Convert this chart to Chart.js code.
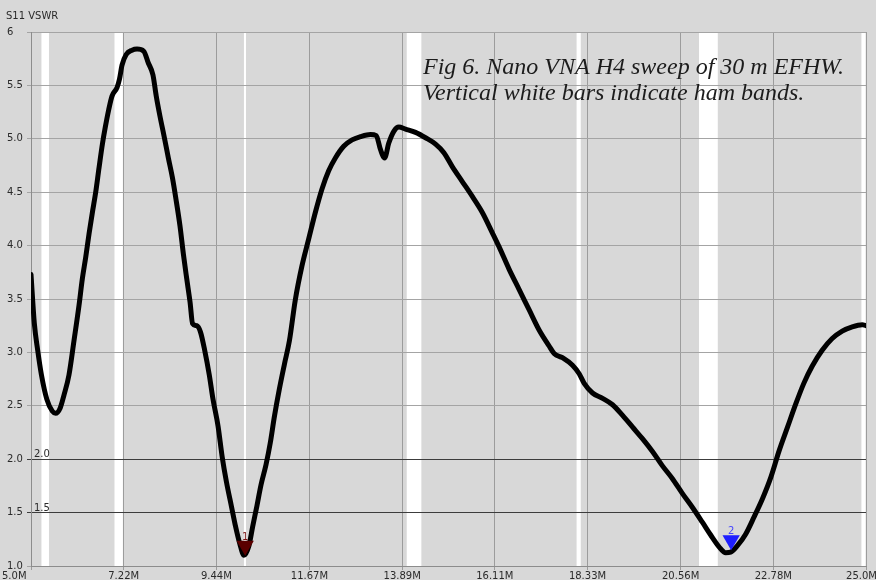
<!DOCTYPE html>
<html>
<head>
<meta charset="utf-8">
<script src="https://cdn.jsdelivr.net/npm/chart.js@4.4.1/dist/chart.umd.min.js"></script>
<style>
  html, body { margin: 0; padding: 0; background: #d8d8d8; }
  #wrap { width: 876px; height: 580px; }
</style>
</head>
<body>
<div id="wrap"><canvas id="chart" width="876" height="580"></canvas></div>
<script>
// S11 sweep: frequency in MHz, VSWR
const freqs = [
  5.00, 5.08, 5.16, 5.25, 5.38, 5.51, 5.59, 5.70, 5.79, 5.91,
  6.03, 6.15, 6.23, 6.31, 6.39, 6.47, 6.55, 6.63, 6.71, 6.78,
  6.86, 6.94, 7.06, 7.12, 7.18, 7.28, 7.42, 7.54, 7.70, 7.81,
  7.92, 8.00, 8.09, 8.19, 8.29, 8.39, 8.47, 8.57, 8.65, 8.73,
  8.81, 8.87, 8.97, 9.06, 9.16, 9.27, 9.36, 9.48, 9.58, 9.68,
  9.80, 9.90, 10.00, 10.10, 10.22, 10.31, 10.41, 10.51, 10.63, 10.73,
  10.83, 10.95, 11.07, 11.19, 11.33, 11.49, 11.65, 11.81, 11.97, 12.13,
  12.29, 12.49, 12.69, 12.89, 13.13, 13.27, 13.37, 13.47, 13.57, 13.69,
  13.81, 13.97, 14.21, 14.45, 14.69, 14.89, 15.09, 15.33, 15.57, 15.81,
  16.05, 16.21, 16.45, 16.69, 16.93, 17.17, 17.41, 17.53, 17.73, 17.97,
  18.13, 18.25, 18.45, 18.69, 18.93, 19.17, 19.41, 19.65, 19.89, 20.12,
  20.36, 20.60, 20.84, 21.08, 21.28, 21.48, 21.64, 21.76, 21.92, 22.12,
  22.32, 22.52, 22.72, 22.92, 23.12, 23.32, 23.51, 23.71, 23.95, 24.19,
  24.43, 24.67, 24.91, 25.00
];
const vswr = [
  3.73, 3.27, 3.02, 2.79, 2.56, 2.45, 2.43, 2.48, 2.60, 2.79,
  3.11, 3.44, 3.69, 3.89, 4.11, 4.31, 4.50, 4.73, 4.95, 5.11,
  5.27, 5.40, 5.48, 5.56, 5.69, 5.79, 5.83, 5.84, 5.82, 5.71,
  5.60, 5.40, 5.21, 5.02, 4.82, 4.63, 4.44, 4.18, 3.92, 3.69,
  3.47, 3.27, 3.25, 3.19, 3.02, 2.79, 2.56, 2.31, 2.02, 1.79,
  1.56, 1.37, 1.21, 1.10, 1.19, 1.37, 1.56, 1.76, 1.95, 2.15,
  2.40, 2.66, 2.89, 3.11, 3.49, 3.81, 4.06, 4.31, 4.53, 4.70,
  4.82, 4.93, 4.99, 5.02, 5.04, 5.03, 4.90, 4.82, 4.96, 5.07,
  5.11, 5.09, 5.06, 5.01, 4.95, 4.87, 4.74, 4.60, 4.46, 4.31,
  4.12, 3.99, 3.78, 3.59, 3.40, 3.21, 3.06, 2.99, 2.95, 2.88,
  2.80, 2.71, 2.62, 2.57, 2.51, 2.41, 2.30, 2.19, 2.07, 1.94,
  1.82, 1.68, 1.55, 1.41, 1.29, 1.18, 1.125, 1.13, 1.19, 1.30,
  1.46, 1.63, 1.83, 2.08, 2.30, 2.52, 2.71, 2.87, 3.02, 3.13,
  3.20, 3.24, 3.26, 3.25
];

const xTickValues = [5.0, 7.22, 9.44, 11.67, 13.89, 16.11, 18.33, 20.56, 22.78, 25.0];
const xTickLabels = ['5.0M', '7.22M', '9.44M', '11.67M', '13.89M', '16.11M', '18.33M', '20.56M', '22.78M', '25.0M'];
const yTickValues = [1, 1.5, 2, 2.5, 3, 3.5, 4, 4.5, 5, 5.5, 6];
const yTickLabels = ['1.0', '1.5', '2.0', '2.5', '3.0', '3.5', '4.0', '4.5', '5.0', '5.5', '6'];

// ham bands (white bars), MHz
const bandStart = [5.25, 7.0, 10.1, 14.0, 18.068, 21.0, 24.89];
const bandEnd = [5.43, 7.2, 10.15, 14.35, 18.168, 21.45, 24.99];

const refLines = [2.0, 1.5];
const refLabels = ['2.0', '1.5'];

const markerNames = ['1', '2'];
const markerFreqs = [10.13, 21.77];
const markerVswr = [1.19, 1.24];
const markerColors = ['#5a0000', '#1e1eff'];
const markerTextColors = ['#7a1414', '#4646ff'];

const chartTitle = 'S11 VSWR';
const noteLines = ['Fig 6. Nano VNA H4 sweep of 30 m EFHW.', 'Vertical white bars indicate ham bands.'];

const labelFont = '10px "DejaVu Sans", Tahoma, sans-serif';

const backdrop = {
  id: 'backdrop',
  beforeDraw(chart) {
    const { ctx, chartArea: a, scales: { x } } = chart;
    ctx.save();
    ctx.fillStyle = '#d8d8d8';
    ctx.fillRect(0, 0, chart.width, chart.height);
    ctx.fillStyle = '#ffffff';
    bandStart.forEach((s, i) => {
      const x0 = x.getPixelForValue(s);
      const x1 = x.getPixelForValue(bandEnd[i]);
      ctx.fillRect(x0, a.top, Math.max(x1 - x0, 2), a.bottom - a.top);
    });
    ctx.restore();
  }
};

const overlay = {
  id: 'overlay',
  afterDraw(chart) {
    const { ctx, chartArea: a, scales: { x, y } } = chart;
    ctx.save();
    ctx.font = labelFont;
    ctx.fillStyle = '#2a2a2a';
    ctx.textBaseline = 'middle';
    ctx.textAlign = 'left';
    ctx.fillText(chartTitle, 6, 16);

    // x tick labels, first and last pushed inside the canvas
    ctx.textBaseline = 'alphabetic';
    xTickValues.forEach((v, i) => {
      const px = x.getPixelForValue(v);
      if (i === 0) {
        ctx.textAlign = 'left';
        ctx.fillText(xTickLabels[i], 2, 579);
      } else if (i === xTickValues.length - 1) {
        ctx.textAlign = 'right';
        ctx.fillText(xTickLabels[i], chart.width + 1, 579);
      } else {
        ctx.textAlign = 'center';
        ctx.fillText(xTickLabels[i], px, 579);
      }
    });

    // labels on the 2.0 / 1.5 reference lines
    ctx.textAlign = 'left';
    refLines.forEach((v, i) => {
      ctx.fillText(refLabels[i], a.left + 3, y.getPixelForValue(v) - 2);
    });

    // marker numbers
    ctx.textAlign = 'center';
    markerFreqs.forEach((f, i) => {
      ctx.fillStyle = markerTextColors[i];
      ctx.fillText(markerNames[i], x.getPixelForValue(f), y.getPixelForValue(markerVswr[i]) - 6);
    });

    // figure note
    ctx.font = 'italic 24px "Liberation Serif", "Times New Roman", serif';
    ctx.fillStyle = '#1c1c1c';
    ctx.textAlign = 'left';
    ctx.fillText(noteLines[0], 423, 74);
    ctx.fillText(noteLines[1], 423, 100);
    ctx.restore();
  }
};

new Chart(document.getElementById('chart'), {
  type: 'line',
  data: {
    datasets: [
      {
        data: markerFreqs.map((f, i) => ({ x: f, y: markerVswr[i] })),
        type: 'scatter',
        pointStyle: 'triangle',
        rotation: 180,
        radius: 10,
        backgroundColor: markerColors,
        borderColor: markerColors,
        borderWidth: 0,
        order: 0
      },
      {
        data: freqs.map((f, i) => ({ x: f, y: vswr[i] })),
        borderColor: '#000000',
        borderWidth: 5,
        pointRadius: 0,
        cubicInterpolationMode: 'monotone',
        borderCapStyle: 'round',
        borderJoinStyle: 'round',
        order: 1
      }
    ]
  },
  options: {
    responsive: false,
    animation: false,
    events: [],
    layout: { padding: { top: 32, right: 10, left: 7, bottom: 0 } },
    plugins: { legend: { display: false }, tooltip: { enabled: false } },
    scales: {
      x: {
        type: 'linear',
        min: 5,
        max: 25,
        afterBuildTicks: (s) => { s.ticks = xTickValues.map((v) => ({ value: v })); },
        afterFit: (s) => { s.height = 14; },
        ticks: { display: false },
        grid: { color: '#9c9c9c', tickLength: 4 },
        border: { color: '#8c8c8c' }
      },
      y: {
        min: 1,
        max: 6,
        afterBuildTicks: (s) => { s.ticks = yTickValues.map((v) => ({ value: v })); },
        afterFit: (s) => { s.width = 24; },
        ticks: {
          crossAlign: 'far',
          padding: 2,
          color: '#2a2a2a',
          font: { family: '"DejaVu Sans", Tahoma, sans-serif', size: 10 },
          callback: (v) => yTickLabels[yTickValues.indexOf(v)]
        },
        grid: {
          tickLength: 4,
          color: (c) => (c.tick && refLines.includes(c.tick.value) ? '#3c3c3c' : '#a4a4a4')
        },
        border: { color: '#8c8c8c' }
      }
    }
  },
  plugins: [backdrop, overlay]
});
</script>
</body>
</html>
